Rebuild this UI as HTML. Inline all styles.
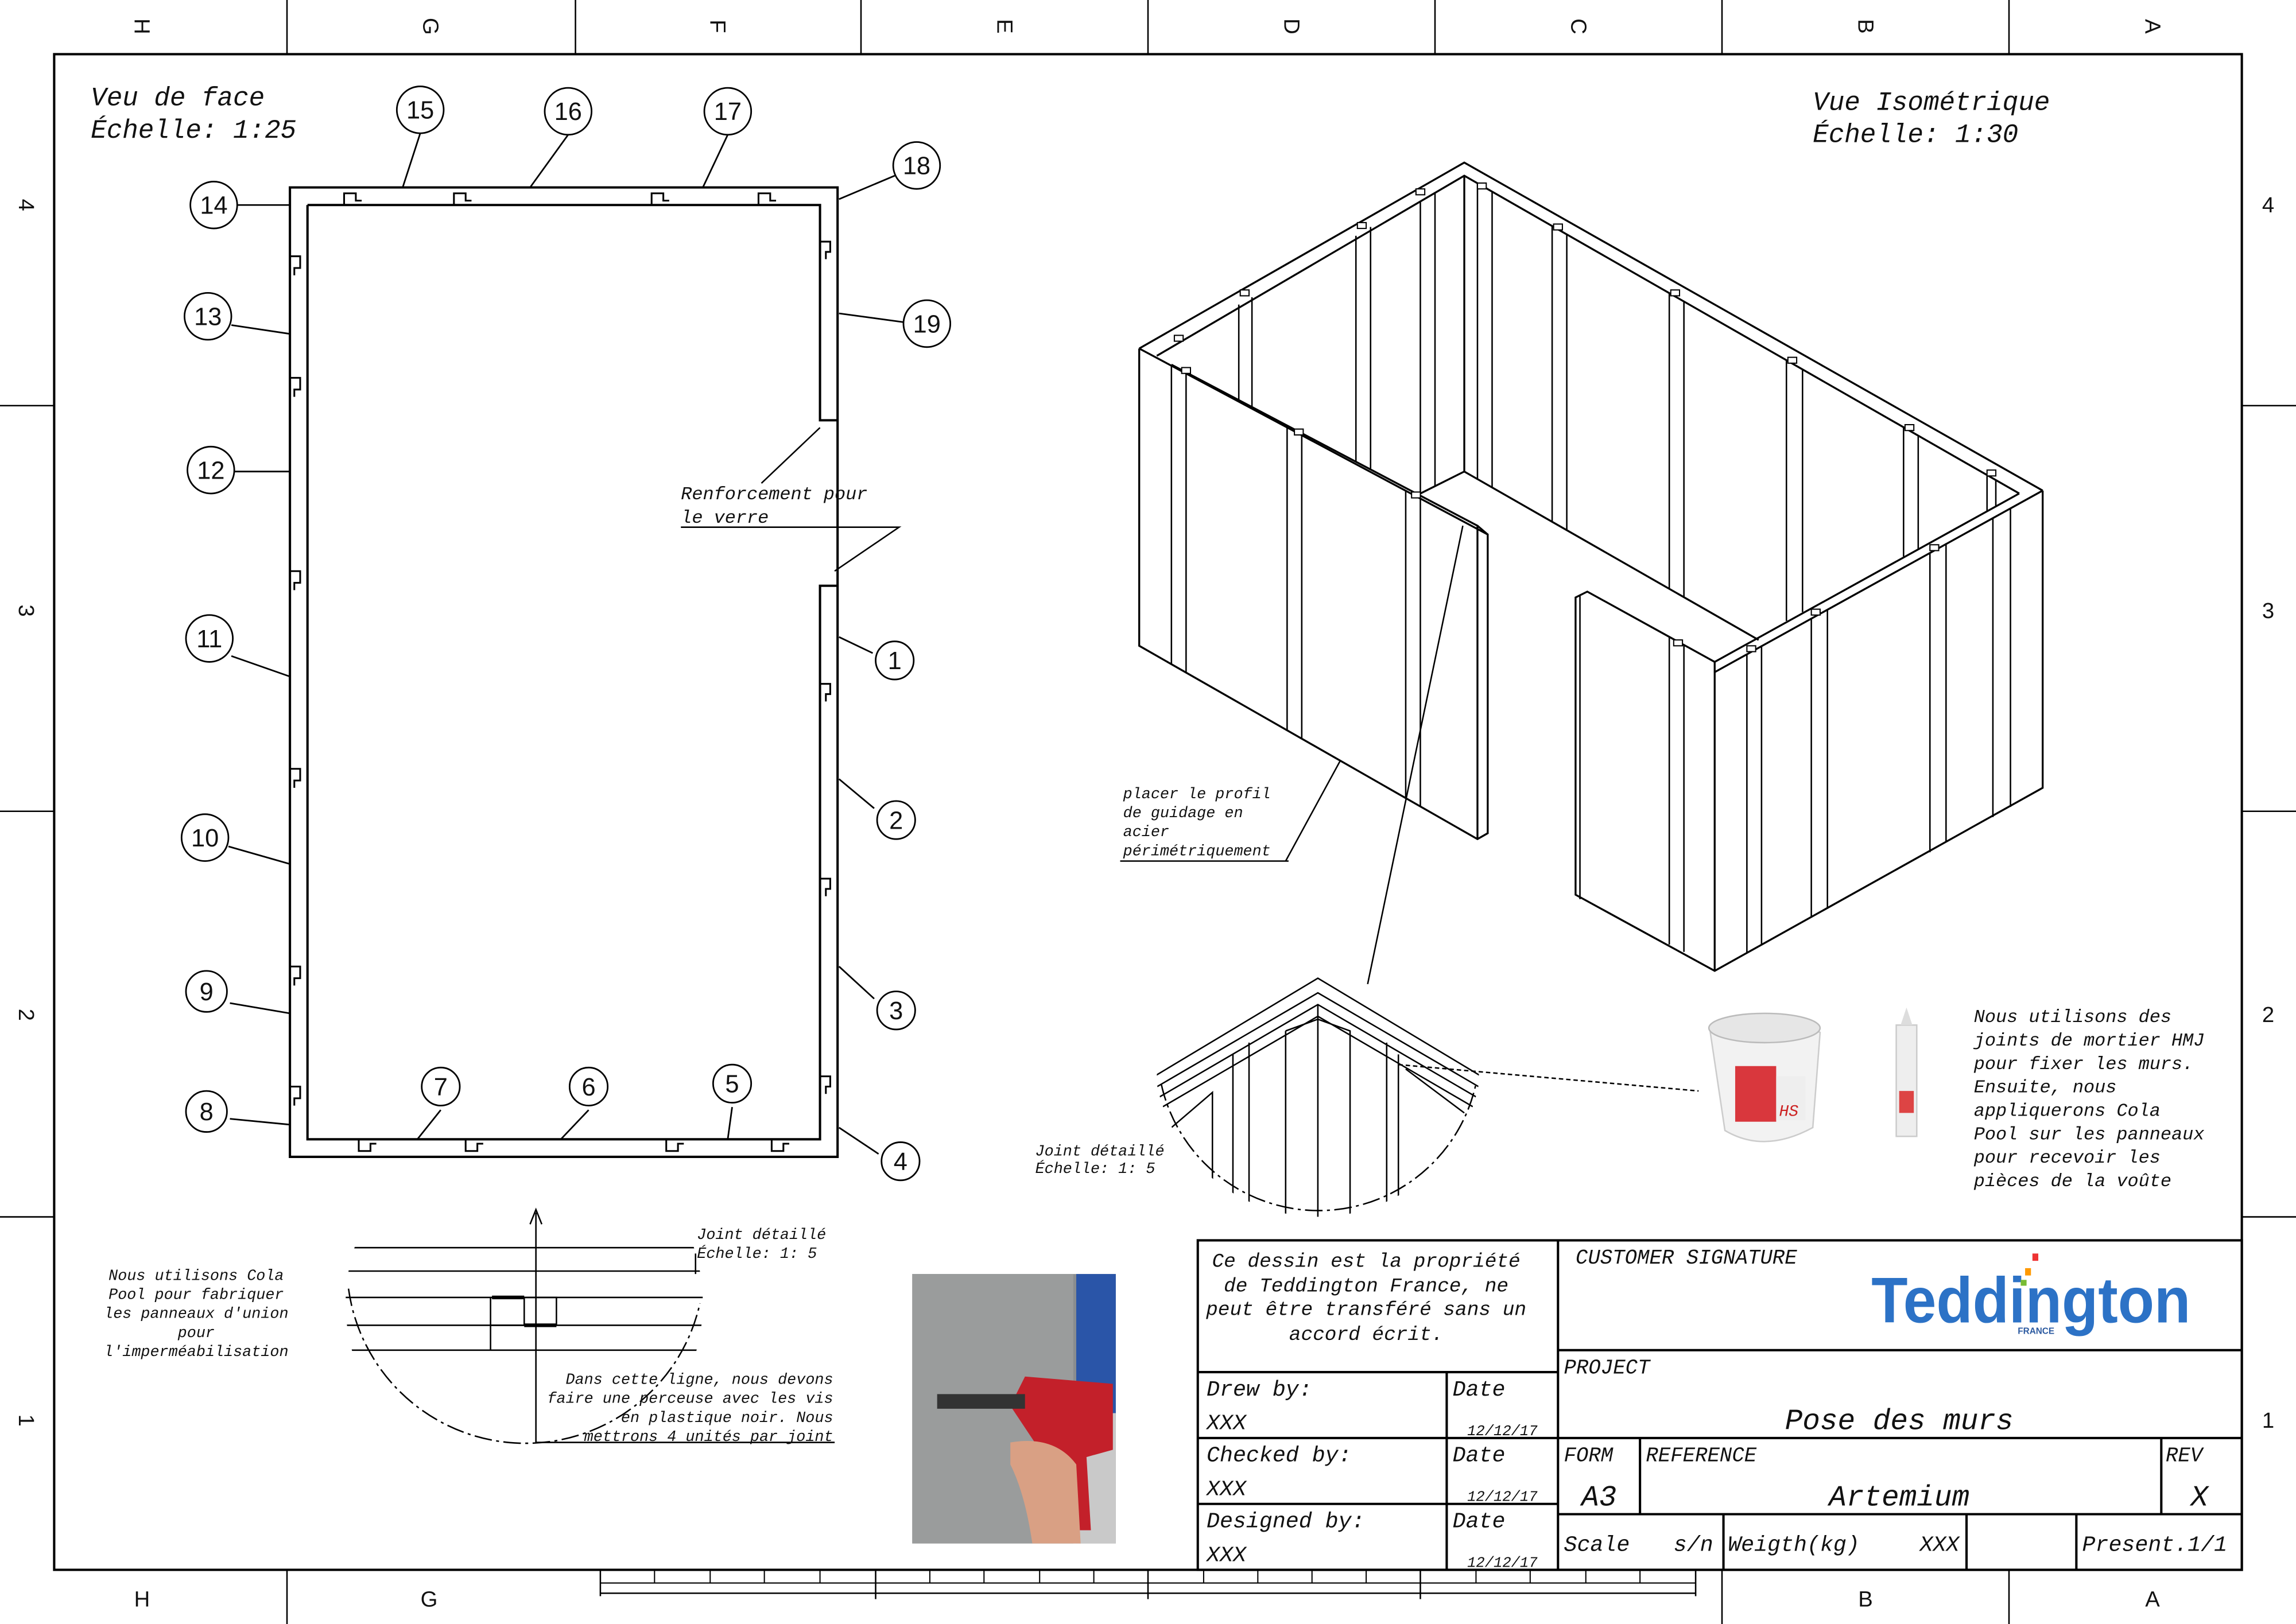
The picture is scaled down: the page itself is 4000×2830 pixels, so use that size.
<!DOCTYPE html>
<html><head><meta charset="utf-8"><style>
html,body{margin:0;padding:0;background:#fff;}
svg{display:block;}
text{font-family:"Liberation Mono",monospace;font-style:italic;fill:#111;}
.u{font-style:normal;font-family:"Liberation Sans",sans-serif;}
</style></head><body>
<svg width="4000" height="2830" viewBox="0 0 1568 1109" preserveAspectRatio="none" xmlns="http://www.w3.org/2000/svg">
<rect width="1568" height="1109" fill="#fff"/>
<g stroke="#000" fill="none">
<rect x="37" y="37" width="1494" height="1035" stroke-width="1.6"/>
<path d="M196 0V37M393 0V37M588 0V37M784 0V37M980 0V37M1176 0V37M1372 0V37" stroke-width="1"/>
<path d="M0 277H37M0 554H37M0 831H37M1531 277H1568M1531 554H1568M1531 831H1568" stroke-width="1"/>
<path d="M196 1072V1109M1176 1072V1109M1372 1072V1109" stroke-width="1"/>
<path d="M410 1072V1090M410 1088H1158M1158 1072V1090M598 1072V1092M784 1072V1092M970 1072V1092" stroke-width="1"/>
<path d="M410 1081H1158M447 1072V1081M485 1072V1081M522 1072V1081M560 1072V1081M635 1072V1081M672 1072V1081M710 1072V1081M747 1072V1081M822 1072V1081M859 1072V1081M896 1072V1081M933 1072V1081M1008 1072V1081M1045 1072V1081M1083 1072V1081M1120 1072V1081" stroke-width="0.8"/>
</g>
<g class="u" font-size="15" text-anchor="middle">
<text class="u" x="97" y="23" transform="rotate(90 97 18)">H</text>
<text class="u" x="294" y="23" transform="rotate(90 294 18)">G</text>
<text class="u" x="490" y="23" transform="rotate(90 490 18)">F</text>
<text class="u" x="686" y="23" transform="rotate(90 686 18)">E</text>
<text class="u" x="882" y="23" transform="rotate(90 882 18)">D</text>
<text class="u" x="1078" y="23" transform="rotate(90 1078 18)">C</text>
<text class="u" x="1274" y="23" transform="rotate(90 1274 18)">B</text>
<text class="u" x="1470" y="23" transform="rotate(90 1470 18)">A</text>
<text class="u" x="18" y="145" transform="rotate(90 18 140)">4</text>
<text class="u" x="18" y="422" transform="rotate(90 18 417)">3</text>
<text class="u" x="18" y="698" transform="rotate(90 18 693)">2</text>
<text class="u" x="18" y="975" transform="rotate(90 18 970)">1</text>
<text class="u" x="1549" y="145">4</text>
<text class="u" x="1549" y="422">3</text>
<text class="u" x="1549" y="698">2</text>
<text class="u" x="1549" y="975">1</text>
<text class="u" x="97" y="1097">H</text>
<text class="u" x="293" y="1097">G</text>
<text class="u" x="1274" y="1097">B</text>
<text class="u" x="1470" y="1097">A</text>
</g>

<!-- Front view -->
<text x="62" y="72" font-size="18">Veu de face</text>
<text x="62" y="94" font-size="18">Échelle:  1:25</text>
<g stroke="#000" fill="none" stroke-width="1.6">
<path d="M198 128H572V790H198Z"/>
<path d="M210 140H560V287H572M210 140V778H560V400H572"/>
</g>
<g stroke="#000" fill="none" stroke-width="1.2">
<path d="M235 140V132H243V137H247"/><path d="M310 140V132H318V137H322"/><path d="M445 140V132H453V137H457"/><path d="M518 140V132H526V137H530"/>
<path d="M245 778V786H253V781H257"/><path d="M318 778V786H326V781H330"/><path d="M455 778V786H463V781H467"/><path d="M527 778V786H535V781H539"/>
<path d="M198 175H205V183H201V188"/><path d="M198 258H205V266H201V271"/><path d="M198 390H205V398H201V403"/><path d="M198 525H205V533H201V538"/><path d="M198 660H205V668H201V673"/><path d="M198 742H205V750H201V755"/>
<path d="M560 165H567V172H564V177"/><path d="M560 467H567V474H564V479"/><path d="M560 600H567V607H564V612"/><path d="M560 735H567V742H564V747"/>
</g>
<g stroke="#000" fill="#fff" stroke-width="1.1">
<path d="M162 140H198M287 91L275 128M388 92L362 128M497 92L480 128M611 120L573 136M617 220L573 214M158 222L198 228M160 322L198 322M158 448L198 462M156 578L198 590M157 685L198 692M157 764L198 768M301 758L285 778M402 758L383 778M500 756L497 778M596 446L573 435M597 552L573 532M597 682L573 660M600 788L573 770" fill="none"/>
<circle cx="146" cy="140" r="16"/><circle cx="287" cy="75" r="16"/><circle cx="388" cy="76" r="16"/><circle cx="497" cy="76" r="16"/><circle cx="626" cy="113" r="16"/><circle cx="633" cy="221" r="16"/><circle cx="142" cy="216" r="16"/><circle cx="144" cy="321" r="16"/><circle cx="143" cy="436" r="16"/><circle cx="140" cy="572" r="16"/><circle cx="141" cy="677" r="14"/><circle cx="141" cy="759" r="14"/><circle cx="301" cy="742" r="13"/><circle cx="402" cy="742" r="13"/><circle cx="500" cy="740" r="13"/><circle cx="611" cy="451" r="13"/><circle cx="612" cy="560" r="13"/><circle cx="612" cy="690" r="13"/><circle cx="615" cy="793" r="13"/>
</g>
<g font-size="17" text-anchor="middle" class="u">
<text class="u" x="146" y="146">14</text><text class="u" x="287" y="81">15</text><text class="u" x="388" y="82">16</text><text class="u" x="497" y="82">17</text><text class="u" x="626" y="119">18</text><text class="u" x="633" y="227">19</text><text class="u" x="142" y="222">13</text><text class="u" x="144" y="327">12</text><text class="u" x="143" y="442">11</text><text class="u" x="140" y="578">10</text><text class="u" x="141" y="683">9</text><text class="u" x="141" y="765">8</text><text class="u" x="301" y="748">7</text><text class="u" x="402" y="748">6</text><text class="u" x="500" y="746">5</text><text class="u" x="611" y="457">1</text><text class="u" x="612" y="566">2</text><text class="u" x="612" y="696">3</text><text class="u" x="615" y="799">4</text>
</g>
<g stroke="#000" fill="none" stroke-width="1">
<path d="M520 330L560 292M465 360H614L570 390"/>
</g>
<text x="465" y="341" font-size="12.5">Renforcement pour</text>
<text x="465" y="357" font-size="12.5">le verre</text>

<!-- Isometric -->
<text x="1238" y="75" font-size="18">Vue Isométrique</text>
<text x="1238" y="97" font-size="18">Échelle:  1:30</text>
<g stroke="#000" fill="none" stroke-width="1.3">
<!-- outer top rim -->
<path d="M778 238L1000 111L1395 335"/>
<path d="M790 243L1000 120L1379 337"/>
<!-- left front wall -->
<path d="M778 238V441L1009 573L1016 569V365L778 238"/>
<path d="M800 249L1009 359V573"/>
<path d="M1009 359L1016 365"/>
<!-- back corner vertical and floor -->
<path d="M1000 120V322M970 337L1000 322L1201 437"/>
<!-- right walls -->
<path d="M1395 335V538L1171 663L1076 611V408L1084 404L1171 452L1379 337"/>
<path d="M1395 335L1171 459V663"/>
<path d="M1171 452V459"/>
</g>
<g stroke="#000" fill="none" stroke-width="1">
<!-- left front wall panels: top y=238+(x-778)*0.534, bottom 441+(x-778)*0.571 -->
<path d="M800 250V454M810 255V459M879 292V499M889 297V504M960 335V545M970 341V551"/>
<!-- back-left panels -->
<path d="M846 208V273M855 203V278M926 161V315M936 155V320M970 138V337M980 132V332"/>
<path d="M1009 125V327M1019 131V333"/>
<!-- back-right panels -->
<path d="M1060 154V356M1070 160V362M1140 200V402M1150 206V408M1220 246V424M1231 252V418M1300 292V380M1310 298V375M1357 325V349M1363 328V346"/>
<!-- right front wall panels y=459-(x-1171)*0.554 -->
<path d="M1193 447V651M1203 441V645M1237 422V626M1248 416V620M1318 378V582M1329 371V575M1361 354V558M1373 347V551"/>
<!-- short wall panels y=404+(x-1084)*0.55 -->
<path d="M1079 407V614M1140 435V645M1150 440V650"/>
</g>
<g fill="#fff" stroke="#000" stroke-width="0.8">
<rect x="967" y="129" width="6" height="4"/><rect x="1009" y="125" width="6" height="4"/><rect x="927" y="152" width="6" height="4"/><rect x="847" y="198" width="6" height="4"/><rect x="802" y="229" width="6" height="4"/><rect x="1061" y="153" width="6" height="4"/><rect x="1141" y="198" width="6" height="4"/><rect x="1221" y="244" width="6" height="4"/><rect x="1301" y="290" width="6" height="4"/><rect x="1357" y="321" width="6" height="4"/><rect x="1318" y="372" width="6" height="4"/><rect x="1237" y="416" width="6" height="4"/><rect x="1193" y="441" width="6" height="4"/><rect x="1143" y="437" width="6" height="4"/><rect x="807" y="251" width="6" height="4"/><rect x="884" y="293" width="6" height="4"/><rect x="964" y="336" width="6" height="4"/>
</g>
<g stroke="#000" fill="none" stroke-width="1">
<path d="M880 588H765M878 588L915 520"/>
<path d="M934 672L999 359"/>
<path d="M955 727L1160 745" stroke-dasharray="3 2"/>
</g>
<text x="767" y="545" font-size="10.5">placer le profil</text>
<text x="767" y="558" font-size="10.5">de guidage en</text>
<text x="767" y="571" font-size="10.5">acier</text>
<text x="767" y="584" font-size="10.5">périmétriquement</text>

<defs><clipPath id="c1"><path d="M790 740A112 112 0 0 0 1010 740L1010 660L790 660Z"/></clipPath>
<clipPath id="c2"><circle cx="358" cy="890" r="122"/></clipPath></defs>
<g clip-path="url(#c1)" stroke="#000" fill="none" stroke-width="1">
<path d="M780 740L900 668L1020 740M780 748L900 678L1020 748M780 756L900 686L1020 756M780 764L900 694L1020 764"/>
<path d="M900 686V840M842 720V840M853 712V840M878 704V840M878 704L900 696L922 704V840M947 712V840M955 720V840"/>
<path d="M800 770L828 746V840M960 730L1000 760"/>
</g>
<path d="M793 740A110 110 0 0 0 1008 740" stroke="#000" fill="none" stroke-width="1" stroke-dasharray="12 3 2 3"/>
<text x="707" y="789" font-size="10.5">Joint détaillé</text>
<text x="707" y="801" font-size="10.5">Échelle: 1: 5</text>

<g>
<path d="M1168 705Q1205 688 1243 705L1238 770Q1205 788 1178 772Z" fill="#f2f2f2" stroke="#ccc"/>
<ellipse cx="1205" cy="702" rx="38" ry="10" fill="#e6e6e6" stroke="#bbb"/>
<rect x="1185" y="728" width="28" height="38" fill="#d9373d"/>
<rect x="1213" y="735" width="20" height="30" fill="#eee"/>
<text x="1215" y="762" font-size="11" style="fill:#c22">HS</text>
<rect x="1295" y="700" width="14" height="76" fill="#eee" stroke="#ccc"/>
<path d="M1298 700L1302 688L1306 700Z" fill="#ddd"/>
<rect x="1297" y="745" width="10" height="15" fill="#d44"/>
</g>
<g font-size="12.5">
<text x="1348" y="698">Nous utilisons des</text>
<text x="1348" y="714">joints de mortier HMJ</text>
<text x="1348" y="730">pour fixer les murs.</text>
<text x="1348" y="746">Ensuite, nous</text>
<text x="1348" y="762">appliquerons Cola</text>
<text x="1348" y="778">Pool sur les panneaux</text>
<text x="1348" y="794">pour recevoir les</text>
<text x="1348" y="810">pièces de la voûte</text>
</g>

<g clip-path="url(#c2)" stroke="#000" fill="none" stroke-width="1">
<path d="M230 852H490M230 868H490M230 886H490M230 905H490M230 922H490"/>
<path d="M335 886V922M335 905H358V886H380V905M358 905H380"/>
<path d="M336 886H358M358 905H380" stroke-width="2.5"/>
</g>
<path d="M238 880A122 122 0 0 0 478 890" stroke="#000" fill="none" stroke-width="1" stroke-dasharray="12 3 2 3"/>
<g stroke="#000" fill="none" stroke-width="1">
<path d="M366 985V828M362 836L366 826L370 836M366 985H570M475 856V870"/>
</g>
<text x="476" y="846" font-size="10.5">Joint détaillé</text>
<text x="476" y="859" font-size="10.5">Échelle: 1: 5</text>
<g font-size="10.5" text-anchor="end">
<text x="569" y="945">Dans cette ligne, nous devons</text>
<text x="569" y="958">faire une perceuse avec les vis</text>
<text x="569" y="971">en plastique noir. Nous</text>
<text x="569" y="984">mettrons 4 unités par joint</text>
</g>
<g font-size="10.5" text-anchor="middle">
<text x="134" y="874">Nous utilisons Cola</text>
<text x="134" y="887">Pool pour fabriquer</text>
<text x="134" y="900">les panneaux d'union</text>
<text x="134" y="913">pour</text>
<text x="134" y="926">l'imperméabilisation</text>
</g>

<rect x="623" y="870" width="139" height="184" fill="#8a8d8f"/>
<rect x="623" y="870" width="110" height="184" fill="#9a9c9c"/>
<rect x="735" y="870" width="27" height="100" fill="#2a55a8"/>
<rect x="735" y="965" width="27" height="89" fill="#c9c9c9"/>
<path d="M700 940L760 945L760 990L742 995L745 1045L712 1045L710 990L690 960Z" fill="#c3202a"/>
<path d="M640 962H700V952H640Z" fill="#333"/>
<path d="M690 985Q720 980 735 1000L738 1054H705Q700 1020 690 1000Z" fill="#d9a084"/>

<g stroke="#000" fill="none" stroke-width="1.6">
<path d="M818 847H1531V1072H818Z"/>
<path d="M1064 847V1072M818 937H1064M818 982H1064M818 1027H1064M988 937V1072M1064 922H1531M1064 982H1531M1064 1034H1531M1120 982V1034M1476 982V1034M1177 1034V1072M1343 1034V1072M1418 1034V1072"/>
</g>
<g font-size="13.5" text-anchor="middle">
<text x="933" y="865">Ce dessin est la propriété</text>
<text x="933" y="882">de Teddington France, ne</text>
<text x="933" y="898">peut être transféré sans un</text>
<text x="933" y="915">accord écrit.</text>
</g>
<g font-size="15">
<text x="824" y="953">Drew by:</text><text x="824" y="976">XXX</text><text x="992" y="953">Date</text><text x="1002" y="980" font-size="10">12/12/17</text>
<text x="824" y="998">Checked by:</text><text x="824" y="1021">XXX</text><text x="992" y="998">Date</text><text x="1002" y="1025" font-size="10">12/12/17</text>
<text x="824" y="1043">Designed by:</text><text x="824" y="1066">XXX</text><text x="992" y="1043">Date</text><text x="1002" y="1070" font-size="10">12/12/17</text>
<text x="1076" y="863" font-size="14">CUSTOMER SIGNATURE</text>
<text x="1068" y="938" font-size="14">PROJECT</text>
<text x="1297" y="976" font-size="20" text-anchor="middle">Pose des murs</text>
<text x="1068" y="998" font-size="14">FORM</text>
<text x="1124" y="998" font-size="14">REFERENCE</text>
<text x="1479" y="998" font-size="14">REV</text>
<text x="1092" y="1028" font-size="20" text-anchor="middle">A3</text>
<text x="1297" y="1028" font-size="20" text-anchor="middle">Artemium</text>
<text x="1502" y="1028" font-size="20" text-anchor="middle">X</text>
<text x="1068" y="1059">Scale</text><text x="1143" y="1059">s/n</text>
<text x="1180" y="1059">Weigth(kg)</text><text x="1311" y="1059">XXX</text>
<text x="1422" y="1059">Present.1/1</text>
</g>
<text x="1278" y="903" font-size="44" class="u" style="font-family:'Liberation Sans',sans-serif;font-weight:bold;fill:#2c72c6" textLength="218" lengthAdjust="spacingAndGlyphs">Teddington</text>
<rect x="1388" y="856" width="4" height="5" fill="#e33"/>
<rect x="1383" y="866" width="4" height="5" fill="#f90"/>
<rect x="1380" y="874" width="4" height="4" fill="#7b3"/>
<text x="1378" y="911" font-size="6" class="u" style="font-family:'Liberation Sans',sans-serif;font-weight:bold;fill:#2c5aa0">FRANCE</text>
</svg>
</body></html>
